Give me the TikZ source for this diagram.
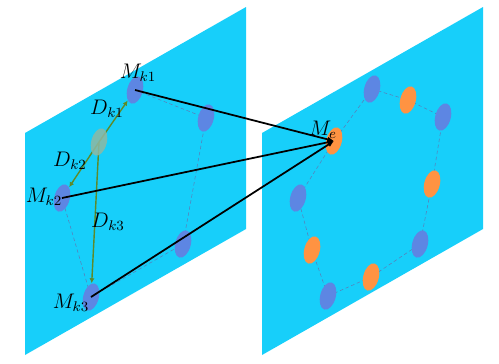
\documentclass[tikz,border=0pt]{standalone}
\usepackage{amsmath,amssymb}
\usepackage{xcolor}
\usetikzlibrary{arrows.meta,positioning,shapes.geometric}

\definecolor{planecyan}{HTML}{17CFFA}
\definecolor{blobblue}{HTML}{5D86E3}
\definecolor{bloborange}{HTML}{FF9342}
\definecolor{blobgreen}{HTML}{8FB8A2}
\definecolor{arrowgreen}{HTML}{5E8A2A}
\definecolor{dashblue}{HTML}{5A7DB8}

\begin{document}
\begin{tikzpicture}[
    x=0.02cm, y=-0.02cm,
    plane/.style={fill=planecyan, draw=none},
    blob/.style={ellipse, draw=none, minimum width=0.31cm, minimum height=0.56cm, inner sep=0pt, rotate=-15},
    blueblob/.style={blob, fill=blobblue},
    orangeblob/.style={blob, fill=bloborange},
    greenblob/.style={blob, fill=blobgreen},
    ring/.style={draw=dashblue, line width=0.3pt, dash pattern=on 2pt off 1.5pt},
    dist/.style={draw=arrowgreen, line width=0.8pt, -{Latex[length=1mm,width=1mm]}},
    link/.style={draw, line width=1pt, -{Latex[length=1.3mm,width=1.1mm]}},
    lbl/.style={font=\fontsize{11.5}{13}\selectfont}
]
    \useasboundingbox (0,0) rectangle (499,363);

    % Planes
    \path[plane] (25,133) -- (246,7) -- (246,229) -- (25,355) -- cycle;
    \path[plane] (262,133) -- (483,7) -- (483,229) -- (262,355) -- cycle;

    % Left plane: known points
    \coordinate (k1) at (135,90);
    \coordinate (a2) at (206,118);
    \coordinate (a3) at (183,244);
    \coordinate (k3) at (91,297);
    \coordinate (k2) at (62,198);
    \coordinate (g) at (99,142);

    % Right plane: known and interpolated points
    \coordinate (r1) at (372,89);
    \coordinate (o2) at (408,100);
    \coordinate (r2) at (443,117);
    \coordinate (o3) at (432,184);
    \coordinate (r3) at (420,244);
    \coordinate (o4) at (371,277);
    \coordinate (r4) at (328,296);
    \coordinate (o5) at (312,250);
    \coordinate (r5) at (298,198);
    \coordinate (me) at (334,141);

    % Dashed rings
    \path[ring] (k1) -- (a2) -- (a3) -- (k3) -- (k2);
    \path[ring] (r1) -- (o2) -- (r2) -- (o3) -- (r3) -- (o4) -- (r4) -- (o5) -- (r5) -- (me) -- cycle;

    % Blobs
    \node[blueblob] (bk1) at (k1) {};
    \node[blueblob] (ba2) at (a2) {};
    \node[blueblob] (ba3) at (a3) {};
    \node[blueblob] (bk3) at (k3) {};
    \node[blueblob] (bk2) at (k2) {};

    \node[blueblob] (br1) at (r1) {};
    \node[blueblob] (br2) at (r2) {};
    \node[blueblob] (br3) at (r3) {};
    \node[blueblob] (br4) at (r4) {};
    \node[blueblob] (br5) at (r5) {};
    \node[orangeblob] (bme) at (me) {};
    \node[orangeblob] (bo2) at (o2) {};
    \node[orangeblob] (bo3) at (o3) {};
    \node[orangeblob] (bo4) at (o4) {};
    \node[orangeblob] (bo5) at (o5) {};

    % Distances from the green point
    \path[dist] (g) -- (bk1);
    \path[dist] (g) -- (bk2);
    \path[dist] (g) -- (bk3);
    \node[greenblob, opacity=0.85] (bg) at (g) {};

    % Links to M_e
    \path[link] (k1) -- (me);
    \path[link] (k2) -- (me);
    \path[link] (k3) -- (me);

    % Labels
    \node[lbl] (lk1) at (138,73) {$M_{k1}$};
    \node[lbl] (lk2) at (44,197) {$M_{k2}$};
    \node[lbl] (lk3) at (71,303) {$M_{k3}$};
    \node[lbl] (ld1) at (107,109) {$D_{k1}$};
    \node[lbl] (ld2) at (70,161) {$D_{k2}$};
    \node[lbl] (ld3) at (108,222) {$D_{k3}$};
    \node[lbl] (lme) at (323,130) {$M_e$};
\end{tikzpicture}
\end{document}
